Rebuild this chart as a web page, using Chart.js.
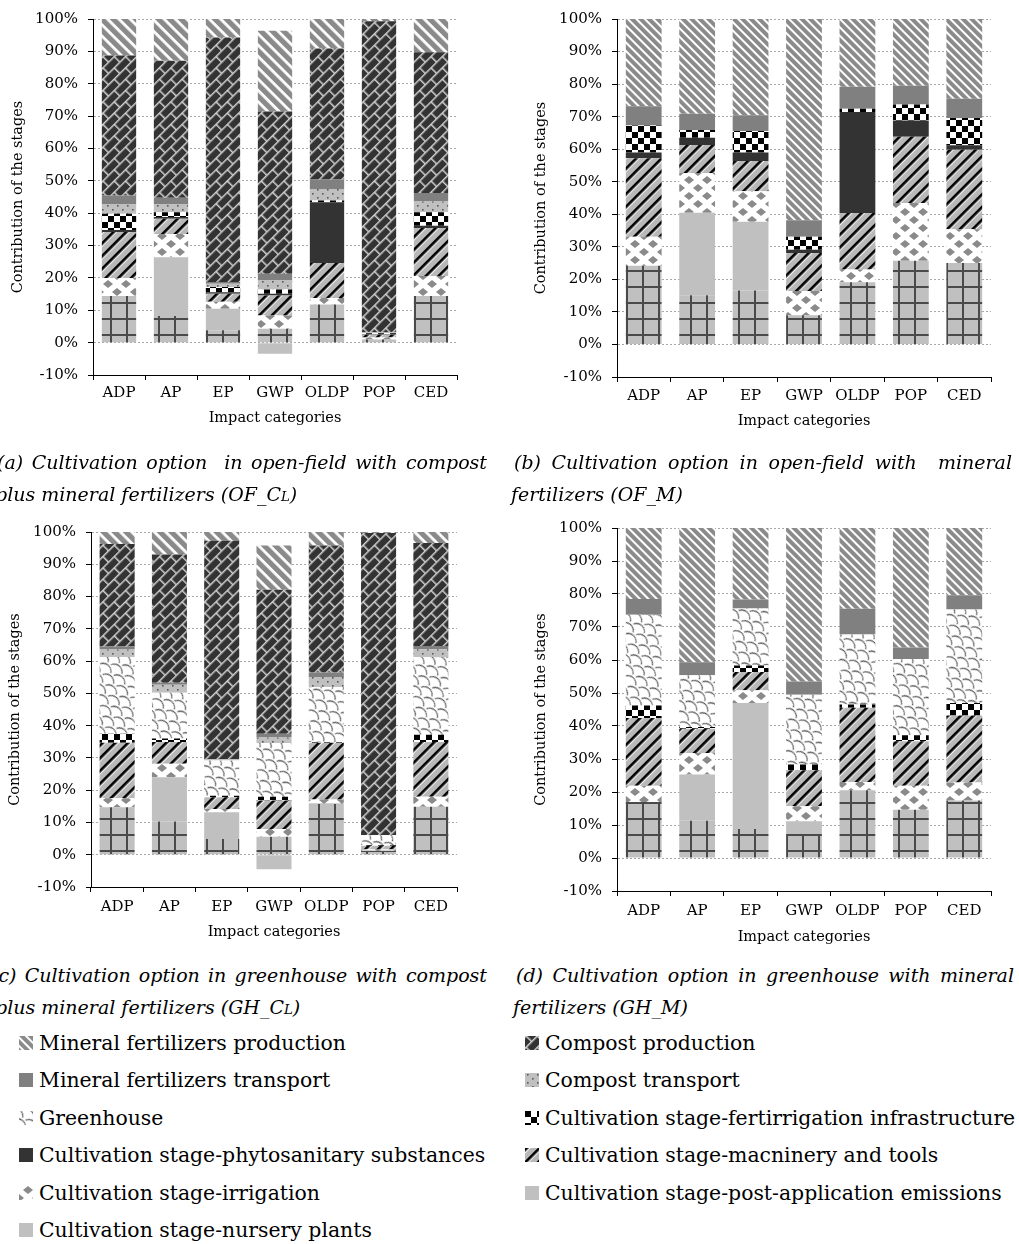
<!DOCTYPE html>
<html>
<head>
<meta charset="utf-8">
<script src="https://cdn.jsdelivr.net/npm/chart.js@4.4.1/dist/chart.umd.min.js"></script>
<style>
html,body{margin:0;padding:0;background:#fff;}
body{position:relative;width:1019px;height:1244px;overflow:hidden;font-family:'DejaVu Serif',serif;color:#000;}
canvas.panel{position:absolute;}
.cap{position:absolute;font-family:'DejaVu Serif',serif;font-style:italic;font-size:19px;line-height:32px;}
.cap .l1{text-align:justify;text-align-last:justify;}
.cap .l2{white-space:nowrap;}
.sc{font-size:0.7em;}
.leg{position:absolute;font-size:20.4px;height:24px;line-height:24px;white-space:nowrap;}
.leg canvas{position:absolute;left:0;top:5px;}
.leg span{position:absolute;left:20px;top:0;}
</style>
</head>
<body>
<canvas class="panel" id="pa"></canvas>
<canvas class="panel" id="pb"></canvas>
<canvas class="panel" id="pc"></canvas>
<canvas class="panel" id="pd"></canvas>

<div class="cap" style="left:-3px;top:446px;width:490px">
  <div class="l1">(a) Cultivation option&nbsp; in open-field with compost</div>
  <div class="l2" style="margin-left:-2px">plus mineral fertilizers (OF_C<span class="sc">L</span>)</div>
</div>
<div class="cap" style="left:514px;top:446px;width:498px">
  <div class="l1">(b) Cultivation option in open-field with&nbsp; mineral</div>
  <div class="l2" style="margin-left:-3px">fertilizers (OF_M)</div>
</div>
<div class="cap" style="left:-9px;top:959px;width:496px">
  <div class="l1">(c) Cultivation option in greenhouse with compost</div>
  <div class="l2" style="margin-left:4px">plus mineral fertilizers (GH_C<span class="sc">L</span>)</div>
</div>
<div class="cap" style="left:516px;top:959px;width:498px">
  <div class="l1">(d) Cultivation option in greenhouse with mineral</div>
  <div class="l2" style="margin-left:-3px">fertilizers (GH_M)</div>
</div>

<div id="legend"></div>

<script>
const categories = ['ADP', 'AP', 'EP', 'GWP', 'OLDP', 'POP', 'CED'];

// stages in stacking order, bottom first
const stageNames = [
	'Cultivation stage-nursery plants',
	'Cultivation stage-post-application emissions',
	'Cultivation stage-irrigation',
	'Cultivation stage-macninery and tools',
	'Cultivation stage-phytosanitary substances',
	'Cultivation stage-fertirrigation infrastructure',
	'Greenhouse',
	'Compost transport',
	'Mineral fertilizers transport',
	'Compost production',
	'Mineral fertilizers production'
];

// (a) open-field, compost plus mineral fertilizers (%)
const aNursery    = [14.4, 8.2, 3.8, 4.3, 11.8, 1.0, 14.4];
const aPostApp    = [0, 18.2, 6.7, -3.4, 0, 0, 0];
const aIrrigation = [5.6, 7.2, 2.1, 4.1, 2.0, 0.6, 6.2];
const aMachinery  = [14.2, 4.7, 2.5, 6.2, 10.8, 0.8, 14.8];
const aPhyto      = [0.6, 0.5, 0.5, 0.5, 18.8, 0.2, 0.7];
const aFertirr    = [5.0, 1.5, 1.6, 1.3, 0.5, 0.3, 4.2];
const aGreenhouse = [0, 0, 0, 0, 0, 0, 0];
const aCompTrans  = [2.9, 2.4, 1.0, 2.8, 3.6, 0.2, 3.3];
const aMinTrans   = [2.8, 2.1, 0.5, 2.1, 2.9, 0.1, 2.6];
const aCompProd   = [43.2, 42.3, 75.6, 50.1, 40.5, 96.1, 43.5];
const aMinProd    = [11.3, 12.9, 5.7, 25.0, 9.1, 0.7, 10.3];

// (b) open-field, mineral fertilizers (%)
const bNursery    = [24.2, 15.1, 16.6, 9.0, 19.1, 25.7, 25.0];
const bPostApp    = [0, 25.4, 21.1, 0, 0, 0, 0];
const bIrrigation = [8.9, 12.2, 9.4, 7.4, 3.9, 17.8, 10.4];
const bMachinery  = [24.1, 8.6, 9.3, 11.7, 17.4, 20.3, 24.4];
const bPhyto      = [1.8, 2.2, 2.6, 1.0, 31.0, 5.0, 1.4];
const bFertirr    = [8.3, 2.4, 6.6, 4.0, 1.0, 4.9, 8.4];
const bGreenhouse = [0, 0, 0, 0, 0, 0, 0];
const bCompTrans  = [0, 0, 0, 0, 0, 0, 0];
const bMinTrans   = [5.9, 5.0, 4.8, 5.1, 6.8, 5.8, 5.9];
const bCompProd   = [0, 0, 0, 0, 0, 0, 0];
const bMinProd    = [26.8, 29.1, 29.6, 61.8, 20.8, 20.5, 24.5];

// (c) greenhouse, compost plus mineral fertilizers (%)
const cNursery    = [14.7, 10.3, 4.9, 5.6, 15.8, 1.2, 14.9];
const cPostApp    = [0, 13.7, 8.3, -4.5, 0, 0, 0];
const cIrrigation = [2.8, 4.2, 1.0, 2.4, 1.3, 0.4, 3.1];
const cMachinery  = [17.2, 6.7, 3.6, 8.8, 17.6, 1.2, 16.9];
const cPhyto      = [0, 0, 0, 0, 0, 0, 0];
const cFertirr    = [2.8, 1.1, 0.5, 1.2, 0.2, 0.2, 2.3];
const cGreenhouse = [23.8, 14.2, 10.9, 16.6, 17.1, 3.0, 24.1];
const cCompTrans  = [2.3, 2.5, 0.3, 1.7, 3.1, 0.1, 2.4];
const cMinTrans   = [0.9, 0.6, 0.2, 1.2, 1.4, 0, 1.0];
const cCompProd   = [31.8, 39.7, 67.6, 44.6, 39.3, 93.6, 31.9];
const cMinProd    = [3.7, 7.0, 2.7, 13.7, 4.2, 0.3, 3.4];

// (d) greenhouse, mineral fertilizers (%)
const dNursery    = [17.0, 11.3, 8.8, 7.3, 20.5, 14.6, 17.4];
const dPostApp    = [0, 14.0, 38.2, 3.8, 0, 0, 0];
const dIrrigation = [4.9, 6.5, 3.8, 4.6, 2.5, 7.3, 5.5];
const dMachinery  = [20.5, 7.4, 5.6, 10.9, 22.5, 13.5, 20.3];
const dPhyto      = [0, 0, 0, 0, 0, 0, 0];
const dFertirr    = [3.8, 0.5, 1.9, 1.7, 1.0, 1.8, 3.8];
const dGreenhouse = [27.5, 15.7, 17.3, 21.2, 21.2, 23.1, 28.3];
const dCompTrans  = [0, 0, 0, 0, 0, 0, 0];
const dMinTrans   = [4.8, 3.9, 2.7, 4.0, 7.8, 3.5, 4.3];
const dCompProd   = [0, 0, 0, 0, 0, 0, 0];
const dMinProd    = [21.5, 40.7, 21.7, 46.5, 24.5, 36.2, 20.4];

const yTicks = {min: -10, max: 100, step: 10};

// ---- fill patterns (Excel style) ----
const scratch = document.createElement('canvas').getContext('2d');
function makeTile(w, h, draw){
	const c = document.createElement('canvas');
	c.width = w; c.height = h;
	draw(c.getContext('2d'), w, h);
	return c;
}
function makePattern(tile, angle){
	const p = scratch.createPattern(tile, 'repeat');
	if(angle) p.setTransform(new DOMMatrix().rotate(angle));
	return p;
}

// stripe = period of the mineral fertilizer production stripes (differs between the pasted panels)
function makeFills(stripe){
	return [
		// nursery plants: grid
		makePattern(makeTile(16, 16, function(g){
			g.fillStyle = '#c0c0c0'; g.fillRect(0, 0, 16, 16);
			g.fillStyle = '#4a4a4a'; g.fillRect(0, 14, 16, 2); g.fillRect(14, 0, 2, 16);
		})),
		// post-application emissions
		'#c0c0c0',
		// irrigation: diamonds
		makePattern(makeTile(18, 16, function(g){
			g.fillStyle = '#ffffff'; g.fillRect(0, 0, 18, 16);
			g.fillStyle = '#8a8a8a';
			[[9, 4], [0, 12], [18, 12]].forEach(function(c){
				g.beginPath();
				g.moveTo(c[0], c[1]-4); g.lineTo(c[0]+5, c[1]); g.lineTo(c[0], c[1]+4); g.lineTo(c[0]-5, c[1]);
				g.closePath(); g.fill();
			});
		})),
		// machinery and tools: black "/" stripes
		makePattern(makeTile(8, 9, function(g){
			g.fillStyle = '#b8b8b8'; g.fillRect(0, 0, 8, 9);
			g.fillStyle = '#000000'; g.fillRect(0, 0, 8, 2.8);
			g.fillStyle = '#ffffff'; g.fillRect(0, 2.8, 8, 1);
		}), -45),
		// phytosanitary substances
		'#333333',
		// fertirrigation infrastructure: checker
		makePattern(makeTile(12, 12, function(g){
			g.fillStyle = '#ffffff'; g.fillRect(0, 0, 12, 12);
			g.fillStyle = '#000000'; g.fillRect(0, 0, 6, 6); g.fillRect(6, 6, 6, 6);
		})),
		// greenhouse: wavy scales
		makePattern(makeTile(18, 13, function(g){
			g.fillStyle = '#ffffff'; g.fillRect(0, 0, 18, 13);
			g.strokeStyle = '#505050'; g.lineWidth = 1.1;
			[[9, 13], [0, 6.5], [18, 6.5], [0, 19.5], [18, 19.5]].forEach(function(c){
				g.beginPath(); g.arc(c[0], c[1], 8, Math.PI*1.15, Math.PI*1.85); g.stroke();
			});
		}), 40),
		// compost transport: dots
		makePattern(makeTile(10, 8, function(g){
			g.fillStyle = '#c0c0c0'; g.fillRect(0, 0, 10, 8);
			g.fillStyle = '#5a5a5a'; g.fillRect(2, 1, 1.6, 1.6); g.fillRect(7, 5, 1.6, 1.6);
		})),
		// mineral fertilizers transport
		'#808080',
		// compost production: dark diagonal bricks
		makePattern(makeTile(16, 16, function(g){
			g.fillStyle = '#333333'; g.fillRect(0, 0, 16, 16);
			g.strokeStyle = '#d0d0d0'; g.lineWidth = 1.5;
			g.beginPath();
			g.moveTo(0, 0.75); g.lineTo(16, 0.75);
			g.moveTo(0, 8.75); g.lineTo(16, 8.75);
			g.moveTo(0.75, 0); g.lineTo(0.75, 8);
			g.moveTo(8.75, 8); g.lineTo(8.75, 16);
			g.stroke();
		}), -45),
		// mineral fertilizers production: gray/white "\" stripes
		makePattern(makeTile(8, stripe, function(g, w, h){
			g.fillStyle = '#8a8a8a'; g.fillRect(0, 0, w, h);
			g.fillStyle = '#ffffff'; g.fillRect(0, 0, w, h*0.33);
		}), 45)
	];
}
const fillsLarge = makeFills(8.5);
const fillsSmall = makeFills(6.2);

const axisFont = {family: 'DejaVu Serif', size: 14.5};
const tickFont = {family: 'DejaVu Serif', size: 15};

function drawPanel(id, values, fills, g){
	const el = document.getElementById(id);
	el.width = g.w; el.height = g.h;
	el.style.left = g.left+'px'; el.style.top = g.top+'px';
	el.style.width = g.w+'px'; el.style.height = g.h+'px';
	const half = axisFont.size*1.2/2;
	const datasets = stageNames.map(function(name, i){
		return {
			label: name, data: values[i], backgroundColor: fills[i], borderWidth: 0,
			categoryPercentage: 1, barPercentage: g.bar
		};
	});
	return new Chart(el, {
		type: 'bar',
		data: {labels: categories, datasets: datasets},
		options: {
			responsive: false, animation: false, devicePixelRatio: 1,
			layout: {padding: {top: g.areaTop, right: g.w-g.areaRight, left: 0, bottom: 0}},
			plugins: {legend: {display: false}, tooltip: {enabled: false}},
			scales: {
				x: {
					stacked: true,
					grid: {display: true, drawOnChartArea: false, drawTicks: true, tickLength: 5, tickColor: '#000', offset: true},
					border: {color: '#000', width: 1},
					ticks: {font: tickFont, color: '#000', padding: g.tickPad, maxRotation: 0, autoSkip: false},
					title: {display: true, text: 'Impact categories', font: axisFont, color: '#000', padding: {top: 0, bottom: g.h-half-g.xTitleY}},
					afterFit: function(s){ s.height = g.h-g.areaBottom; }
				},
				y: {
					stacked: true, min: yTicks.min, max: yTicks.max,
					ticks: {stepSize: yTicks.step, font: tickFont, color: '#000', padding: 10, callback: function(v){ return v+'%'; }},
					grid: {
						color: function(c){ return c.tick && c.tick.value===yTicks.min ? 'rgba(0,0,0,0)' : '#a8a8a8'; },
						tickColor: '#000', tickLength: 5, drawTicks: true
					},
					border: {color: '#000', width: 1, dash: [2, 2]},
					title: {display: true, text: 'Contribution of the stages', font: axisFont, color: '#000', padding: {top: g.yTitleX-half, bottom: 0}},
					afterFit: function(s){ s.width = g.areaLeft; }
				}
			}
		}
	});
}

drawPanel('pa', [aNursery, aPostApp, aIrrigation, aMachinery, aPhyto, aFertirr, aGreenhouse, aCompTrans, aMinTrans, aCompProd, aMinProd], fillsLarge,
	{left: 0, top: 0, w: 480, h: 440, areaTop: 18, areaLeft: 93, areaRight: 457, areaBottom: 375, yTitleX: 18, xTitleY: 418, tickPad: 4, bar: 0.66});
drawPanel('pb', [bNursery, bPostApp, bIrrigation, bMachinery, bPhyto, bFertirr, bGreenhouse, bCompTrans, bMinTrans, bCompProd, bMinProd], fillsSmall,
	{left: 500, top: 0, w: 510, h: 440, areaTop: 15, areaLeft: 117, areaRight: 491, areaBottom: 377, yTitleX: 41, xTitleY: 421, tickPad: 5, bar: 0.67});
drawPanel('pc', [cNursery, cPostApp, cIrrigation, cMachinery, cPhyto, cFertirr, cGreenhouse, cCompTrans, cMinTrans, cCompProd, cMinProd], fillsLarge,
	{left: 0, top: 500, w: 480, h: 450, areaTop: 32, areaLeft: 91, areaRight: 457, areaBottom: 387, yTitleX: 15, xTitleY: 432, tickPad: 6, bar: 0.67});
drawPanel('pd', [dNursery, dPostApp, dIrrigation, dMachinery, dPhyto, dFertirr, dGreenhouse, dCompTrans, dMinTrans, dCompProd, dMinProd], fillsSmall,
	{left: 500, top: 500, w: 510, h: 450, areaTop: 28, areaLeft: 117, areaRight: 491, areaBottom: 391, yTitleX: 41, xTitleY: 437, tickPad: 6, bar: 0.67});

// ---- shared legend, two columns, Excel row-major order ----
const legendOrder = [10, 9, 8, 7, 6, 5, 4, 3, 2, 1, 0];
const legendBox = document.getElementById('legend');
legendOrder.forEach(function(si, k){
	const col = k % 2, row = Math.floor(k / 2);
	const item = document.createElement('div');
	item.className = 'leg';
	item.style.left = (col===0 ? 19 : 525)+'px';
	item.style.top = (1043 + row*37.4 - 12)+'px';
	const ic = document.createElement('canvas');
	ic.width = 14; ic.height = 14;
	const g = ic.getContext('2d');
	g.fillStyle = fillsSmall[si]; g.fillRect(0, 0, 14, 14);
	const tx = document.createElement('span');
	tx.textContent = stageNames[si];
	item.appendChild(ic); item.appendChild(tx);
	legendBox.appendChild(item);
});
</script>
</body>
</html>
